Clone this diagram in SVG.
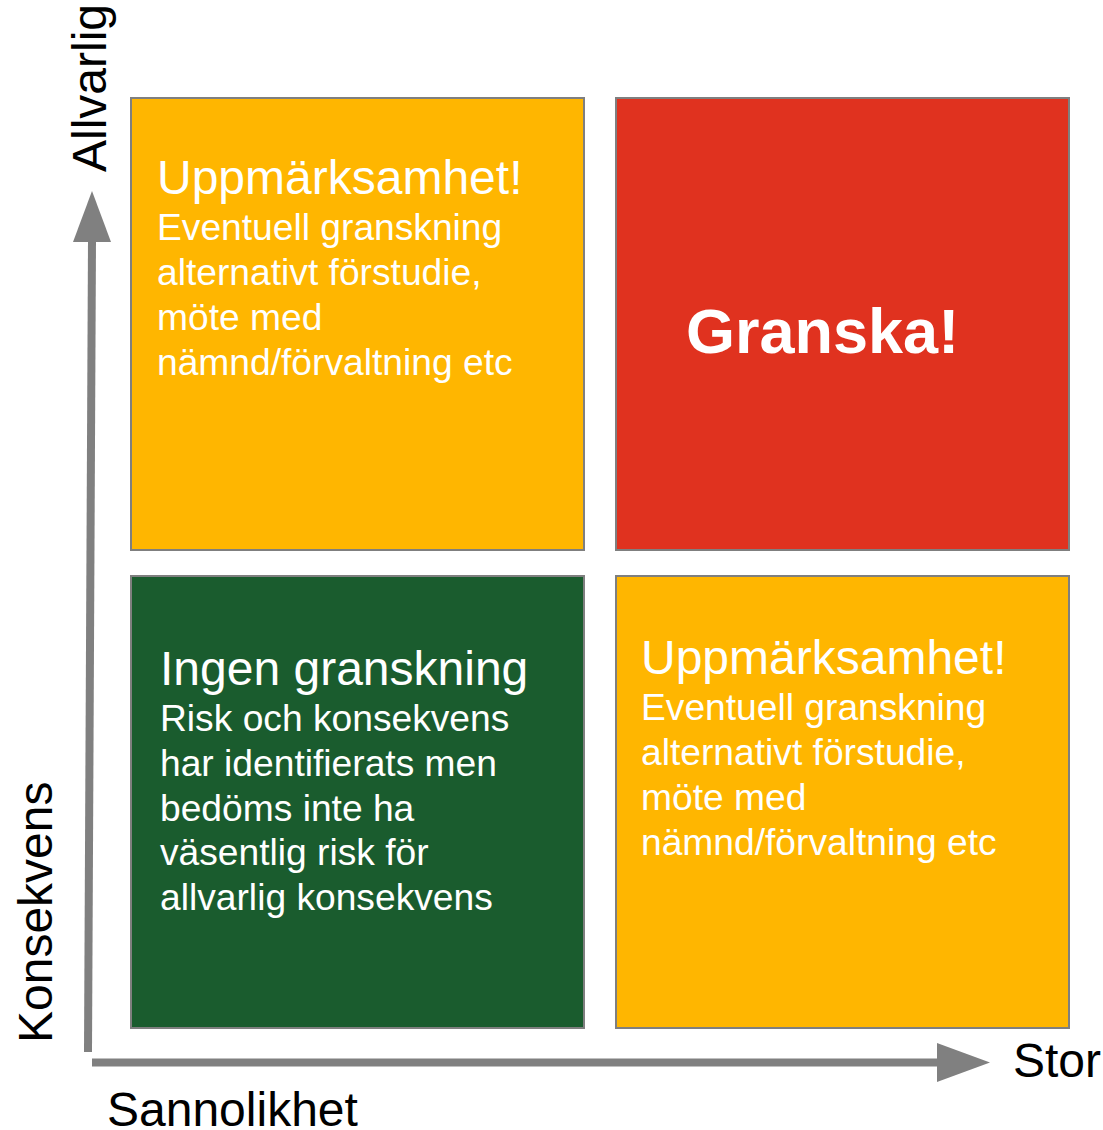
<svg xmlns="http://www.w3.org/2000/svg" width="1103" height="1130" viewBox="0 0 1103 1130">
<style>
.box{stroke:#7f7f7f;stroke-width:2}
.org{fill:#ffb600}
.red{fill:#e0321f}
.grn{fill:#1a5c2e}
text{font-family:"Liberation Sans",Arial,sans-serif}
.w{fill:#ffffff}
.h{font-size:48px}
.b{font-size:37.2px}
.ax{font-size:48px;fill:#000000}
.axis{stroke:#808080;stroke-width:8;fill:none}
.head{fill:#808080}
</style>
<rect width="1103" height="1130" fill="#ffffff"/>
<g id="connectors">
<line class="axis" x1="88" y1="1052" x2="92" y2="240"/>
<polygon class="head" points="73,242 111,242 92,191"/>
<line class="axis" x1="92" y1="1062.5" x2="940" y2="1062.5"/>
<polygon class="head" points="937,1043 937,1082 990,1062.5"/>
</g>
<g id="box-top-left">
<rect class="box org" x="131" y="98" width="453" height="452"/>
<text class="w h" x="157" y="194">Uppmärksamhet!</text>
<text class="w b" x="157" y="240">Eventuell granskning</text>
<text class="w b" x="157" y="285">alternativt förstudie,</text>
<text class="w b" x="157" y="330">möte med</text>
<text class="w b" x="157" y="375">nämnd/förvaltning etc</text>
</g>
<g id="box-top-right">
<rect class="box red" x="616" y="98" width="453" height="452"/>
<text class="w" x="686" y="353" font-size="63" font-weight="bold">Granska!</text>
</g>
<g id="box-bottom-left">
<rect class="box grn" x="131" y="576" width="453" height="452"/>
<text class="w h" x="160" y="685">Ingen granskning</text>
<text class="w b" x="160" y="731">Risk och konsekvens</text>
<text class="w b" x="160" y="776">har identifierats men</text>
<text class="w b" x="160" y="821">bedöms inte ha</text>
<text class="w b" x="160" y="865">väsentlig risk för</text>
<text class="w b" x="160" y="910">allvarlig konsekvens</text>
</g>
<g id="box-bottom-right">
<rect class="box org" x="616" y="576" width="453" height="452"/>
<text class="w h" x="641" y="674">Uppmärksamhet!</text>
<text class="w b" x="641" y="720">Eventuell granskning</text>
<text class="w b" x="641" y="765">alternativt förstudie,</text>
<text class="w b" x="641" y="810">möte med</text>
<text class="w b" x="641" y="855">nämnd/förvaltning etc</text>
</g>
<g id="label-allvarlig"><text class="ax" transform="translate(106,172) rotate(-90)">Allvarlig</text></g>
<g id="label-konsekvens"><text class="ax" transform="translate(52,1043) rotate(-90)">Konsekvens</text></g>
<g id="label-sannolikhet"><text class="ax" x="107" y="1126">Sannolikhet</text></g>
<g id="label-stor"><text class="ax" x="1013" y="1077">Stor</text></g>
</svg>
